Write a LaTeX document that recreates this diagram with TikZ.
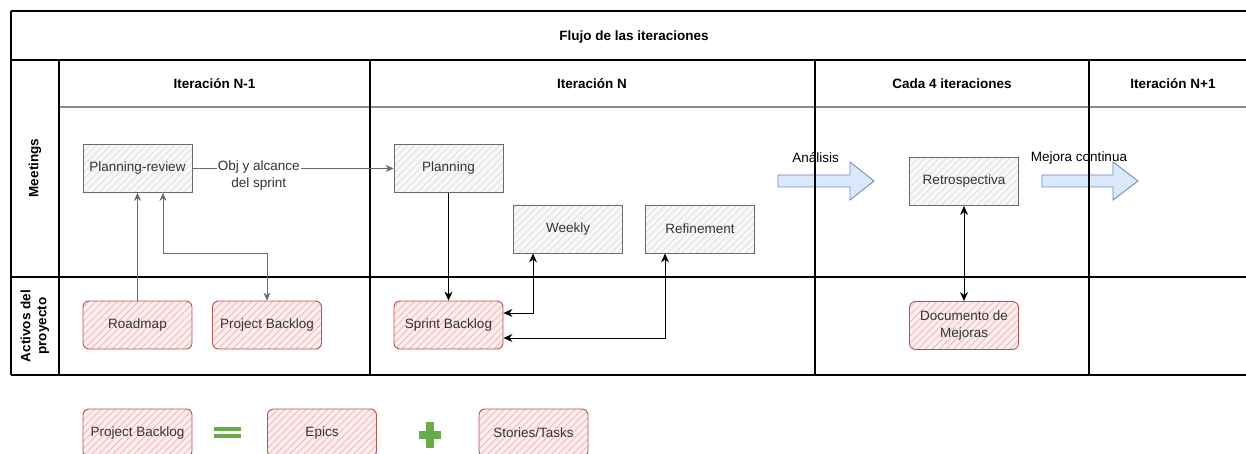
\documentclass[tikz,border=0pt]{standalone}
\usepackage{fontspec}
\setmainfont{Liberation Sans}
\usetikzlibrary{arrows.meta,patterns.meta}

\definecolor{meetfill}{HTML}{F8F8F8}
\definecolor{meethatch}{HTML}{DCDCDC}
\definecolor{meetdraw}{HTML}{6B6B6B}
\definecolor{assetfill}{HTML}{FCEEEE}
\definecolor{assethatch}{HTML}{EDB1AF}
\definecolor{assetdraw}{HTML}{B85450}
\definecolor{flowfill}{HTML}{DAE8FC}
\definecolor{flowdraw}{HTML}{6C8EBF}
\definecolor{opgreen}{HTML}{67AC47}
\definecolor{boxtext}{HTML}{333333}
\definecolor{rulegray}{HTML}{8A8A8A}

\newcommand\bxfont{\fontsize{13.5}{17}\selectfont}
\newcommand\hdfont{\fontsize{13.5}{16}\selectfont\bfseries}

\tikzset{
  basebox/.style={minimum width=109pt, minimum height=48pt, inner sep=0pt,
    align=center, font=\bxfont, text=boxtext, line width=0.9pt},
  meeting/.style={basebox, draw=meetdraw, preaction={fill=meetfill},
    pattern={Lines[angle=45,distance=5pt,line width=0.7pt]}, pattern color=meethatch},
  asset/.style={basebox, draw=assetdraw, rounded corners=6pt, preaction={fill=assetfill},
    pattern={Lines[angle=45,distance=5pt,line width=0.7pt]}, pattern color=assethatch},
  header/.style={font=\hdfont, text=black},
  lanelabel/.style={font=\hdfont, text=black, rotate=90, align=center},
  flowlabel/.style={font=\bxfont, text=black, inner sep=0pt},
  grid/.style={draw=black, line width=1.1pt},
  grayflow/.style={draw=meetdraw, line width=0.9pt},
  blackflow/.style={draw=black, line width=0.9pt},
  gtip/.style={-{Stealth[length=8pt,width=7pt]}},
  btip/.style={-{Stealth[length=9pt,width=8pt]}},
  bothtip/.style={{Stealth[length=9pt,width=8pt]}-{Stealth[length=9pt,width=8pt]}},
  gbothtip/.style={{Stealth[length=8pt,width=7pt]}-{Stealth[length=8pt,width=7pt]}},
  blockarrow/.style={draw=flowdraw, fill=flowfill, line width=0.9pt, line join=miter},
  operator/.style={fill=opgreen, draw=none}
}

\begin{document}
\begin{tikzpicture}[x=1pt,y=-1pt]
\useasboundingbox (0,0) rectangle (1246,454);
\clip (0,0) rectangle (1246,454);

% Block arrows between phases
\draw[blockarrow] (778,175) -- (850,175) -- (850,162) -- (874,181) -- (850,200)
  -- (850,187) -- (778,187) -- cycle;
\draw[blockarrow] (1042,175) -- (1113,175) -- (1113,162) -- (1138,181) -- (1113,200)
  -- (1113,187) -- (1042,187) -- cycle;

% Swimlane grid
\draw[grid] (11,11) -- (1260,11);
\draw[grid] (11,60) -- (1260,60);
\draw[draw=rulegray, line width=1.3pt] (59,107) -- (1260,107);
\draw[grid] (11,277) -- (1260,277);
\draw[grid] (11,375) -- (1260,375);
\draw[grid] (11,11) -- (11,375);
\draw[grid] (59,60) -- (59,375);
\draw[grid] (370,60) -- (370,375);
\draw[grid] (815,60) -- (815,375);
\draw[grid] (1089,60) -- (1089,375);

% Titles and headers
\node[header] (title) at (634,37) {Flujo de las iteraciones};
\node[header] (hprev) at (214.5,84) {Iteración N-1};
\node[header] (hcur) at (592,84) {Iteración N};
\node[header] (hcada) at (952,84) {Cada 4 iteraciones};
\node[header] (hnext) at (1173,84) {Iteración N+1};
\node[lanelabel] (lmeet) at (35,168) {Meetings};
\node[lanelabel] (lact) at (35,326) {Activos del\\proyecto};

% Meetings
\node[meeting] (prevrev) at (137.5,168.5) {Planning-review};
\node[meeting] (planning) at (448.5,168.5) {Planning};
\node[meeting] (weekly) at (568,229) {Weekly};
\node[meeting] (refinement) at (700,229) {Refinement};
\node[meeting] (retro) at (964,181.5) {Retrospectiva};

% Project assets
\node[asset] (roadmap) at (137.5,325) {Roadmap};
\node[asset] (pbacklog) at (267,325) {Project Backlog};
\node[asset] (sprint) at (448.5,325) {Sprint Backlog};
\node[asset] (docmej) at (964,325.5) {Documento de\\Mejoras};

% Phase labels
\node[flowlabel] (lanalisis) at (815.5,158) {Análisis};
\node[flowlabel] (lmejora) at (1079,158) {Mejora continua};

% Connectors
\draw[grayflow, gtip] (roadmap) -- (prevrev);
\coordinate (pbturn) at (163,253);
\draw[grayflow, gbothtip] (prevrev.south -| pbturn) -- (pbturn) -| (pbacklog.north);
\draw[grayflow, gtip] (prevrev) -- node[pos=0.33, yshift=-7pt, fill=white, inner sep=1pt,
  font=\bxfont, text=boxtext, align=center] (objlabel) {Obj y alcance\\del sprint} (planning);
\draw[blackflow, btip] (planning) -- (sprint);
\coordinate (wkturn) at (533,313);
\draw[blackflow, bothtip] (weekly.south -| wkturn) |- (sprint.east |- wkturn);
\coordinate (rfturn) at (665,338);
\draw[blackflow, bothtip] (refinement.south -| rfturn) |- (sprint.east |- rfturn);
\draw[blackflow, bothtip] (retro) -- (docmej);

% Legend: Project Backlog = Epics + Stories/Tasks
\node[asset] (lgpb) at (137.5,433) {Project Backlog};
\fill[operator] (214,427) rectangle (241,431);
\fill[operator] (214,434) rectangle (241,438);
\node[asset] (lgepics) at (322,433) {Epics};
\fill[operator] (426,422) rectangle (434,448);
\fill[operator] (419,431) rectangle (441,439);
\node[asset] (lgstories) at (533.5,433) {Stories/Tasks};
\end{tikzpicture}
\end{document}
